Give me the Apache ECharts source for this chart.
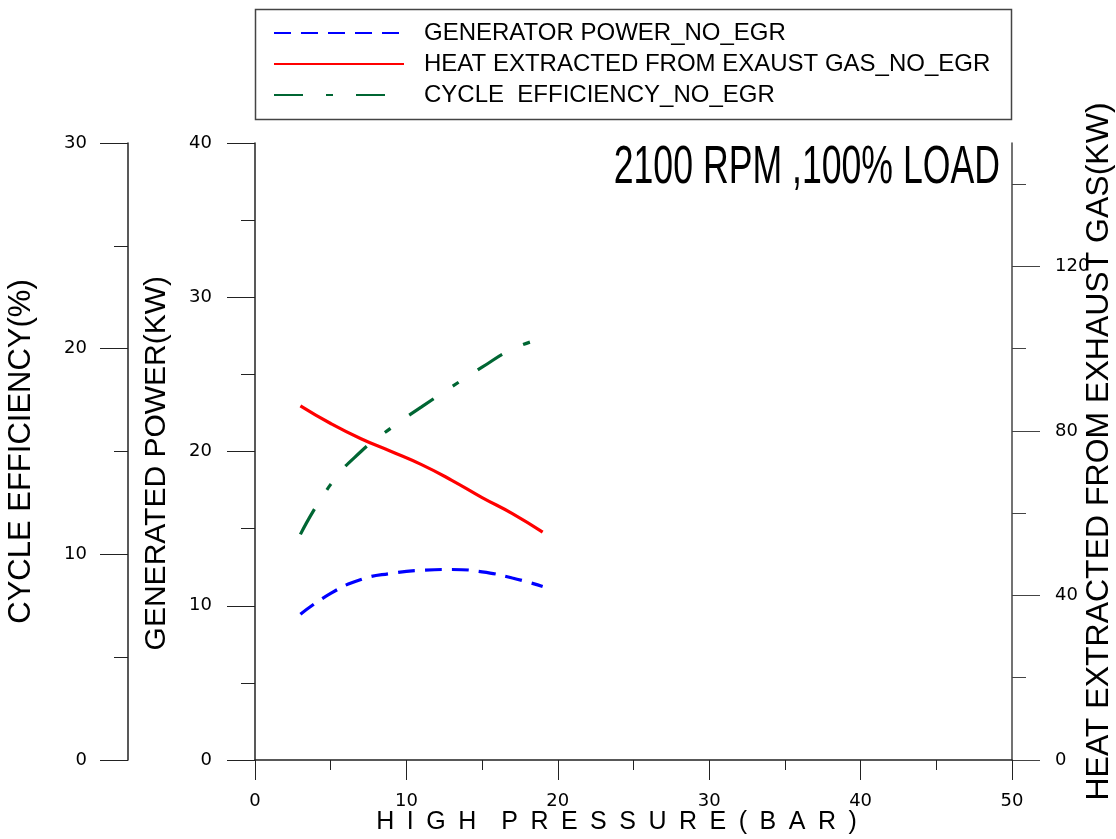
<!DOCTYPE html>
<html>
<head>
<meta charset="utf-8">
<script src="https://cdn.jsdelivr.net/npm/echarts@6/dist/echarts.min.js"></script>
<style>
html, body { margin: 0; padding: 0; background: #fff; }
#chart { width: 1116px; height: 839px; }
</style>
</head>
<body>
<div id="chart"></div>
<script>
// data
var pressure = [3, 5, 7, 9, 11, 13, 15, 17, 19];
var generatorPower = [9.45, 10.8, 11.7, 12.1, 12.3, 12.35, 12.2, 11.8, 11.25];
var heatExtracted = [86.1, 81.8, 78.1, 75.0, 71.8, 68.0, 63.8, 59.9, 55.4];
var cycleEfficiency = [10.97, 13.4, 15.0, 16.15, 17.17, 18.15, 19.1, 19.98, 20.5];
var heatTicks = [0, 40, 80, 120];
var heatMinorTicks = [20, 60, 100, 140];

var seriesNames = ['GENERATOR POWER_NO_EGR', 'HEAT EXTRACTED FROM EXAUST GAS_NO_EGR', 'CYCLE  EFFICIENCY_NO_EGR'];

function pairs(ys) {
	return pressure.map(function(x, i) { return [x, ys[i]]; });
}

var axisColor = '#222';
var labelFont = { color: '#000', fontFamily: 'DejaVu Sans', fontSize: 18 };
var nameFont = { color: '#000', fontFamily: 'Liberation Sans', fontSize: 30 };

var chart = echarts.init(document.getElementById('chart'));
var option = {
	animation: false,
	backgroundColor: '#fff',
	grid: { left: 255, right: 104, top: 143, bottom: 79, containLabel: false, outerBoundsMode: 'none' },
	legend: {
		orient: 'vertical',
		left: 268,
		top: 16,
		itemWidth: 130,
		itemHeight: 12,
		itemGap: 7,
		data: seriesNames,
		itemStyle: { opacity: 0 },
		textStyle: { color: '#000', fontFamily: 'Liberation Sans', fontSize: 24, padding: [0, 0, 0, 15] }
	},
	graphic: [
		{ type: 'rect', shape: { x: 255.5, y: 9.5, width: 756, height: 110 }, style: { fill: 'none', stroke: '#444', lineWidth: 1.5 } },
		{ type: 'text', x: 1000, y: 168, scaleX: 0.66, style: { text: '2100 RPM ,100% LOAD', fill: '#000', font: '54px "Liberation Sans"', textAlign: 'right', textVerticalAlign: 'middle' } }
	],
	xAxis: {
		type: 'value',
		min: 0, max: 50, interval: 10,
		name: 'H\u2002I\u2002G\u2002H\u2002\u2002P\u2002R\u2002E\u2002S\u2002S\u2002U\u2002R\u2002E\u2002(\u2002B\u2002A\u2002R\u2002)',
		nameLocation: 'middle', nameGap: 50, nameMoveOverlap: false,
		nameTextStyle: { color: '#000', fontFamily: 'Liberation Sans', fontSize: 25, padding: [0, 34, 0, 0] },
		axisLine: { onZero: false, lineStyle: { color: axisColor, width: 1.5 } },
		axisTick: { length: 20, lineStyle: { color: axisColor } },
		minorTick: { show: true, splitNumber: 2, length: 10, lineStyle: { color: axisColor } },
		axisLabel: Object.assign({ margin: 32 }, labelFont),
		splitLine: { show: false }
	},
	yAxis: [
		{
			type: 'value', position: 'left',
			min: 0, max: 40, interval: 10,
			name: 'GENERATED POWER(KW) \u2002', nameLocation: 'middle', nameRotate: 90, nameGap: 83, nameMoveOverlap: false,
			nameTextStyle: nameFont,
			axisLine: { show: true, onZero: false, lineStyle: { color: axisColor, width: 1.5 } },
			axisTick: { length: 28, lineStyle: { color: axisColor } },
			minorTick: { show: true, splitNumber: 2, length: 14, lineStyle: { color: axisColor } },
			axisLabel: Object.assign({ margin: 43 }, labelFont),
			splitLine: { show: false }
		},
		{
			type: 'value', position: 'left', offset: 127,
			min: 0, max: 30, interval: 10,
			name: 'CYCLE EFFICIENCY(%)', nameLocation: 'middle', nameRotate: 90, nameGap: 91, nameMoveOverlap: false,
			nameTextStyle: Object.assign({}, nameFont, { fontSize: 31 }),
			axisLine: { show: true, onZero: false, lineStyle: { color: axisColor, width: 1.5 } },
			axisTick: { length: 28, lineStyle: { color: axisColor } },
			minorTick: { show: true, splitNumber: 2, length: 14, lineStyle: { color: axisColor } },
			axisLabel: Object.assign({ margin: 41 }, labelFont),
			splitLine: { show: false }
		},
		{
			type: 'value', position: 'right',
			min: 0, max: 150,
			name: 'HEAT EXTRACTED FROM EXHAUST GAS(KW)', nameLocation: 'middle', nameRotate: 90, nameGap: 71, nameMoveOverlap: false,
			nameTextStyle: Object.assign({}, nameFont, { fontSize: 32 }),
			axisLine: { show: true, onZero: false, lineStyle: { color: '#444', width: 1.5 } },
			axisTick: { length: 28, customValues: heatTicks, lineStyle: { color: '#444' } },
			axisLabel: Object.assign({ margin: 43, customValues: heatTicks }, labelFont),
			splitLine: { show: false }
		},
		{
			type: 'value', position: 'right',
			min: 0, max: 150,
			axisLine: { show: false, onZero: false },
			axisTick: { show: true, length: 14, customValues: heatMinorTicks, lineStyle: { color: '#444' } },
			axisLabel: { show: false },
			splitLine: { show: false }
		}
	],
	series: [
		{
			name: seriesNames[0], type: 'line', yAxisIndex: 0, smooth: true, symbol: 'none',
			itemStyle: { color: '#0000ff' },
			lineStyle: { color: '#0000ff', width: 3.2, type: [17, 10] },
			data: pairs(generatorPower)
		},
		{
			name: seriesNames[1], type: 'line', yAxisIndex: 2, smooth: true, symbol: 'none',
			itemStyle: { color: '#ff0000' },
			lineStyle: { color: '#ff0000', width: 3.2 },
			data: pairs(heatExtracted)
		},
		{
			name: seriesNames[2], type: 'line', yAxisIndex: 1, smooth: true, symbol: 'none',
			itemStyle: { color: '#006633' },
			lineStyle: { color: '#006633', width: 3.2, type: [29, 23, 7, 23] },
			data: pairs(cycleEfficiency)
		}
	]
};
chart.setOption(option);
</script>
</body>
</html>
